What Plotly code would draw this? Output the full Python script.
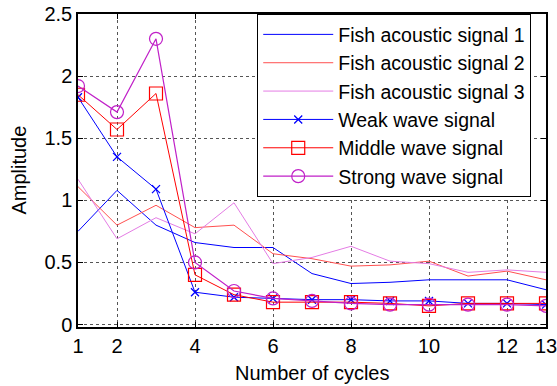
import plotly.graph_objects as go

cycles = [1, 2, 3, 4, 5, 6, 7, 8, 9, 10, 11, 12, 13]

fish1 = [0.75, 1.08, 0.80, 0.66, 0.62, 0.62, 0.41, 0.33, 0.34, 0.36, 0.36, 0.36, 0.28]
fish2 = [1.11, 0.80, 0.96, 0.78, 0.80, 0.57, 0.53, 0.47, 0.48, 0.51, 0.39, 0.43, 0.36]
fish3 = [1.17, 0.69, 0.86, 0.73, 0.98, 0.49, 0.54, 0.63, 0.51, 0.49, 0.42, 0.44, 0.42]
weak = [1.83, 1.35, 1.09, 0.26, 0.22, 0.21, 0.20, 0.20, 0.19, 0.19, 0.17, 0.17, 0.16]
middle = [1.85, 1.57, 1.86, 0.40, 0.24, 0.18, 0.18, 0.18, 0.17, 0.15, 0.17, 0.17, 0.17]
strong = [1.92, 1.71, 2.30, 0.50, 0.27, 0.21, 0.19, 0.17, 0.16, 0.16, 0.16, 0.16, 0.15]

x_ticks = [1, 2, 4, 6, 8, 10, 12, 13]
y_ticks = [0, 0.5, 1, 1.5, 2, 2.5]
y_tick_text = ["0", "0.5", "1", "1.5", "2", "2.5"]

x_title = "Number of cycles"
y_title = "Amplitude"

FONT = "Liberation Sans, Arial, sans-serif"

fig = go.Figure()
fig.add_trace(go.Scatter(x=cycles, y=fish1, mode="lines", name="Fish acoustic signal 1",
                         line=dict(color="#0000FF", width=1)))
fig.add_trace(go.Scatter(x=cycles, y=fish2, mode="lines", name="Fish acoustic signal 2",
                         line=dict(color="#FF5050", width=1)))
fig.add_trace(go.Scatter(x=cycles, y=fish3, mode="lines", name="Fish acoustic signal 3",
                         line=dict(color="#E47CE4", width=1)))
fig.add_trace(go.Scatter(x=cycles, y=weak, mode="lines+markers", name="Weak wave signal",
                         line=dict(color="#0000FF", width=1),
                         marker=dict(symbol="x-thin", size=8, line=dict(color="#0000FF", width=1.3))))
fig.add_trace(go.Scatter(x=cycles, y=middle, mode="lines+markers", name="Middle wave signal",
                         line=dict(color="#FF0000", width=1),
                         marker=dict(symbol="square-open", size=13, color="#FF0000", line=dict(width=1.2))))
fig.add_trace(go.Scatter(x=cycles, y=strong, mode="lines+markers", name="Strong wave signal",
                         line=dict(color="#C020C8", width=1.2),
                         marker=dict(symbol="circle-open", size=13, color="#C020C8", line=dict(width=1.2))))

axis_common = dict(
    showline=True, linecolor="black", linewidth=1.5, mirror="ticks",
    ticks="inside", ticklen=5, tickcolor="black", tickwidth=1,
    showgrid=True, gridcolor="#555555", griddash="dot", gridwidth=1,
    zeroline=False, automargin=False, ticklabeloverflow="allow",
    tickfont=dict(family=FONT, size=20, color="black"),
)

fig.update_layout(
    width=557, height=386,
    margin=dict(l=78, r=11, t=14, b=59),
    paper_bgcolor="white", plot_bgcolor="white",
    font=dict(family=FONT, size=20, color="black"),
    xaxis=dict(range=[1, 13], tickvals=x_ticks, ticktext=[str(v) for v in x_ticks],
               **axis_common),
    yaxis=dict(range=[-0.02, 2.5], tickvals=y_ticks, ticktext=y_tick_text,
               **axis_common),
    legend=dict(x=0.968, xanchor="right", y=1.0, yanchor="top",
                bgcolor="white", bordercolor="black", borderwidth=1.2,
                font=dict(family=FONT, size=19.5), tracegroupgap=0,
                itemwidth=70),
    showlegend=True,
    annotations=[
        dict(text=x_title, xref="paper", yref="paper", x=0.5, y=-0.105,
             xanchor="center", yanchor="top", showarrow=False,
             font=dict(family=FONT, size=20, color="black")),
        dict(text=y_title, xref="paper", yref="paper", x=-0.128, y=0.5,
             xanchor="center", yanchor="middle", textangle=-90, showarrow=False,
             font=dict(family=FONT, size=20, color="black")),
    ],
)

fig.write_html("out.html")
